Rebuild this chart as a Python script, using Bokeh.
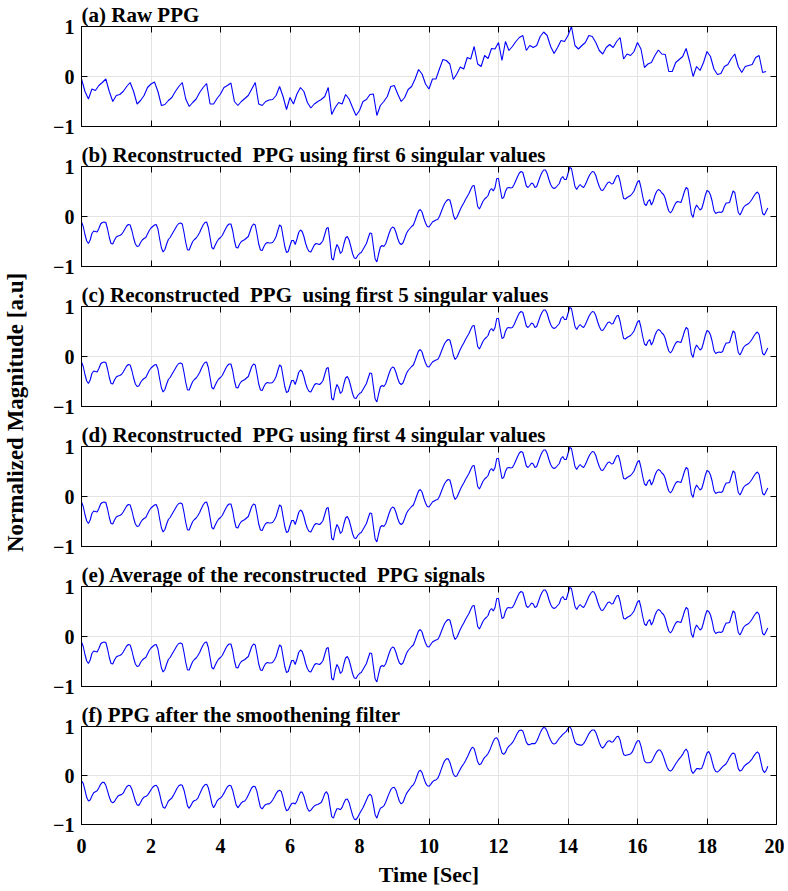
import numpy as np
from bokeh.plotting import figure
from bokeh.layouts import column, row
from bokeh.models import Range1d, FixedTicker, LinearAxis
from bokeh.embed import file_html
from bokeh.resources import INLINE
from bokeh.core.properties import value

fs_raw = 10.0   # raw trace read every 0.1 s
fs_rec = 20.0   # reconstructed / smoothed traces read every 0.05 s

raw_ppg = [
    -0.05, -0.30, -0.45, -0.25, -0.28, -0.18, -0.12, -0.05, -0.30, -0.50,
    -0.38, -0.36, -0.30, -0.20, -0.12, -0.30, -0.55, -0.48, -0.38, -0.22,
    -0.15, -0.11, -0.30, -0.58, -0.56, -0.48, -0.42, -0.30, -0.20, -0.12,
    -0.45, -0.60, -0.52, -0.45, -0.32, -0.22, -0.14, -0.55, -0.55, -0.44,
    -0.35, -0.22, -0.18, -0.13, -0.50, -0.58, -0.50, -0.44, -0.38, -0.25,
    -0.12, -0.55, -0.58, -0.50, -0.47, -0.46, -0.38, -0.20, -0.40, -0.66,
    -0.42, -0.55, -0.35, -0.22, -0.30, -0.52, -0.63, -0.55, -0.50, -0.46,
    -0.40, -0.22, -0.76, -0.62, -0.52, -0.55, -0.36, -0.45, -0.62, -0.78,
    -0.68, -0.50, -0.46, -0.36, -0.35, -0.78, -0.58, -0.50, -0.40, -0.20,
    -0.18, -0.35, -0.50, -0.42, -0.26, -0.20, -0.05, 0.14, 0.05, -0.15,
    -0.25, -0.05, -0.05, 0.15, 0.34, 0.32, 0.25, -0.06, 0.05, 0.19,
    0.15, 0.38, 0.35, 0.60, 0.25, 0.20, 0.42, 0.36, 0.56, 0.55,
    0.68, 0.32, 0.70, 0.52, 0.60, 0.70, 0.78, 0.82, 0.52, 0.62,
    0.58, 0.62, 0.80, 0.89, 0.82, 0.60, 0.46, 0.58, 0.72, 0.70,
    0.82, 1.00, 0.62, 0.55, 0.62, 0.68, 0.82, 0.80, 0.68, 0.52,
    0.45, 0.58, 0.64, 0.58, 0.70, 0.78, 0.35, 0.45, 0.42, 0.50,
    0.68, 0.55, 0.18, 0.25, 0.28, 0.42, 0.53, 0.45, 0.44, 0.10,
    0.10, 0.28, 0.34, 0.40, 0.56, 0.30, 0.00, 0.20, 0.12, 0.28,
    0.50, 0.40, 0.15, 0.04, 0.06, 0.20, 0.24, 0.36, 0.45, 0.20,
    0.08, 0.20, 0.22, 0.24, 0.38, 0.42, 0.08, 0.10,
]

# one line per heartbeat cycle, 0.05 s apart, from t = 0 to 19.75 s
recon_ppg = [
    -0.11, -0.20, -0.36, -0.49, -0.54, -0.47, -0.34, -0.29, -0.30, -0.31, -0.24, -0.15, -0.12, -0.11, -0.12, -0.25, -0.42, -0.54, -0.55,
    -0.47, -0.41, -0.39, -0.38, -0.36, -0.31, -0.25, -0.19, -0.16, -0.17, -0.28, -0.43, -0.55, -0.60, -0.59,
    -0.52, -0.47, -0.44, -0.42, -0.35, -0.28, -0.23, -0.20, -0.17, -0.16, -0.25, -0.45, -0.63, -0.71, -0.66,
    -0.55, -0.46, -0.42, -0.36, -0.30, -0.24, -0.18, -0.14, -0.13, -0.15, -0.32, -0.52, -0.67, -0.67,
    -0.58, -0.50, -0.46, -0.43, -0.38, -0.32, -0.24, -0.17, -0.12, -0.11, -0.22, -0.42, -0.62, -0.65,
    -0.57, -0.50, -0.45, -0.42, -0.38, -0.31, -0.24, -0.18, -0.15, -0.15, -0.28, -0.48, -0.62, -0.63,
    -0.55, -0.50, -0.48, -0.46, -0.43, -0.40, -0.30, -0.20, -0.15, -0.17, -0.35, -0.55, -0.67, -0.68,
    -0.60, -0.54, -0.52, -0.53, -0.53, -0.52, -0.47, -0.40, -0.28, -0.17, -0.20, -0.40, -0.60, -0.72,
    -0.70, -0.58, -0.48, -0.48, -0.56, -0.45, -0.32, -0.27, -0.30, -0.40, -0.54, -0.64, -0.70,
    -0.71, -0.64, -0.57, -0.54, -0.55, -0.56, -0.53, -0.48, -0.36, -0.24, -0.22, -0.50, -0.84, -0.87,
    -0.68, -0.56, -0.62, -0.74, -0.70, -0.55, -0.43, -0.40, -0.47, -0.60, -0.74, -0.83, -0.84,
    -0.78, -0.74, -0.72, -0.66, -0.60, -0.54, -0.43, -0.33, -0.34, -0.60, -0.85, -0.91,
    -0.75, -0.61, -0.58, -0.60, -0.55, -0.45, -0.34, -0.25, -0.21, -0.23, -0.32, -0.44, -0.53, -0.56,
    -0.53, -0.44, -0.34, -0.28, -0.24, -0.20, -0.17, -0.08, 0.02, 0.11, 0.14, 0.09, -0.03, -0.13, -0.20, -0.21,
    -0.16, -0.11, -0.09, -0.07, -0.06, 0.00, 0.09, 0.18, 0.26, 0.31, 0.34, 0.33, 0.20, 0.03, -0.06, -0.02,
    0.06, 0.14, 0.21, 0.27, 0.34, 0.40, 0.46, 0.54, 0.61, 0.62, 0.42, 0.20, 0.15,
    0.22, 0.30, 0.35, 0.38, 0.42, 0.52, 0.56, 0.51, 0.58, 0.76, 0.76, 0.55, 0.36, 0.38,
    0.50, 0.57, 0.58, 0.57, 0.58, 0.64, 0.72, 0.80, 0.87, 0.90, 0.88, 0.75, 0.61, 0.58,
    0.62, 0.67, 0.65, 0.58, 0.60, 0.70, 0.80, 0.88, 0.93, 0.93, 0.86, 0.74, 0.64, 0.58, 0.56,
    0.58, 0.62, 0.66, 0.76, 0.80, 0.74, 0.74, 0.86, 0.98, 0.96, 0.78, 0.60, 0.54,
    0.60, 0.64, 0.60, 0.58, 0.64, 0.72, 0.80, 0.86, 0.90, 0.89, 0.82, 0.70, 0.60, 0.53, 0.52,
    0.57, 0.63, 0.68, 0.69, 0.65, 0.66, 0.74, 0.81, 0.82, 0.70, 0.52, 0.36, 0.35,
    0.38, 0.40, 0.42, 0.46, 0.51, 0.60, 0.69, 0.72, 0.58, 0.40, 0.25, 0.22,
    0.30, 0.34, 0.23, 0.30, 0.42, 0.50, 0.54, 0.52, 0.47, 0.44, 0.36, 0.22, 0.11, 0.07,
    0.12, 0.20, 0.27, 0.30, 0.29, 0.28, 0.38, 0.50, 0.58, 0.55, 0.30, 0.05, -0.02,
    0.15, 0.23, 0.18, 0.13, 0.16, 0.28, 0.42, 0.52, 0.50, 0.43, 0.30, 0.12, 0.06, 0.08,
    0.09, 0.08, 0.10, 0.20, 0.27, 0.27, 0.28, 0.40, 0.51, 0.48, 0.28, 0.08, 0.03,
    0.10, 0.18, 0.22, 0.24, 0.26, 0.30, 0.35, 0.41, 0.46, 0.49, 0.44, 0.25, 0.06, 0.03, 0.10, 0.17,
]

smooth_ppg = [
    -0.11, -0.16, -0.30, -0.45, -0.52, -0.50, -0.42, -0.35, -0.33, -0.31, -0.25, -0.18, -0.14, -0.14, -0.20, -0.32, -0.44, -0.53, -0.56,
    -0.53, -0.47, -0.42, -0.40, -0.39, -0.36, -0.29, -0.23, -0.20, -0.21, -0.28, -0.40, -0.52, -0.60, -0.61,
    -0.55, -0.48, -0.44, -0.43, -0.40, -0.35, -0.29, -0.24, -0.21, -0.20, -0.25, -0.38, -0.54, -0.65, -0.67,
    -0.60, -0.52, -0.49, -0.46, -0.40, -0.33, -0.26, -0.21, -0.19, -0.20, -0.30, -0.45, -0.62, -0.67,
    -0.61, -0.54, -0.51, -0.50, -0.46, -0.38, -0.30, -0.23, -0.19, -0.18, -0.25, -0.40, -0.57, -0.66,
    -0.60, -0.52, -0.48, -0.46, -0.42, -0.36, -0.29, -0.23, -0.20, -0.21, -0.30, -0.45, -0.60, -0.66,
    -0.61, -0.56, -0.53, -0.52, -0.47, -0.40, -0.32, -0.25, -0.22, -0.23, -0.33, -0.50, -0.65, -0.68,
    -0.63, -0.59, -0.58, -0.58, -0.55, -0.50, -0.44, -0.37, -0.32, -0.30, -0.33, -0.45, -0.62, -0.72,
    -0.70, -0.63, -0.57, -0.56, -0.58, -0.52, -0.42, -0.34, -0.34, -0.42, -0.55, -0.67, -0.73,
    -0.71, -0.66, -0.62, -0.60, -0.59, -0.57, -0.55, -0.47, -0.37, -0.33, -0.40, -0.62, -0.84, -0.87,
    -0.76, -0.68, -0.68, -0.70, -0.65, -0.56, -0.49, -0.48, -0.55, -0.68, -0.81, -0.89, -0.90,
    -0.85, -0.78, -0.72, -0.66, -0.58, -0.50, -0.42, -0.38, -0.42, -0.60, -0.80, -0.87,
    -0.76, -0.67, -0.65, -0.62, -0.55, -0.46, -0.37, -0.29, -0.25, -0.24, -0.30, -0.42, -0.53, -0.58,
    -0.55, -0.46, -0.37, -0.32, -0.27, -0.22, -0.19, -0.12, -0.02, 0.08, 0.11, 0.06, -0.05, -0.15, -0.21, -0.22,
    -0.18, -0.13, -0.10, -0.09, -0.06, 0.02, 0.12, 0.22, 0.30, 0.34, 0.34, 0.27, 0.15, 0.03, -0.02, -0.01,
    0.06, 0.13, 0.19, 0.24, 0.30, 0.37, 0.45, 0.53, 0.58, 0.55, 0.42, 0.28, 0.22,
    0.24, 0.31, 0.37, 0.40, 0.45, 0.52, 0.61, 0.70, 0.76, 0.77, 0.71, 0.58, 0.46, 0.43,
    0.47, 0.55, 0.60, 0.63, 0.67, 0.73, 0.80, 0.87, 0.92, 0.93, 0.91, 0.80, 0.68, 0.63,
    0.63, 0.65, 0.65, 0.65, 0.70, 0.78, 0.87, 0.94, 0.98, 0.97, 0.90, 0.80, 0.72, 0.66, 0.64,
    0.66, 0.71, 0.76, 0.80, 0.84, 0.87, 0.90, 0.96, 1.00, 0.94, 0.80, 0.68, 0.64,
    0.63, 0.62, 0.62, 0.65, 0.71, 0.78, 0.85, 0.90, 0.93, 0.93, 0.88, 0.78, 0.67, 0.59, 0.56,
    0.60, 0.66, 0.70, 0.71, 0.68, 0.69, 0.74, 0.79, 0.80, 0.72, 0.56, 0.43, 0.41,
    0.42, 0.43, 0.44, 0.48, 0.56, 0.65, 0.71, 0.71, 0.60, 0.44, 0.30, 0.26,
    0.26, 0.26, 0.28, 0.34, 0.42, 0.48, 0.52, 0.52, 0.47, 0.38, 0.27, 0.17, 0.11, 0.09,
    0.12, 0.18, 0.24, 0.29, 0.34, 0.38, 0.43, 0.50, 0.54, 0.48, 0.28, 0.10, 0.04,
    0.09, 0.14, 0.14, 0.13, 0.15, 0.24, 0.36, 0.46, 0.49, 0.42, 0.28, 0.15, 0.08, 0.07,
    0.10, 0.14, 0.18, 0.21, 0.24, 0.30, 0.37, 0.43, 0.46, 0.44, 0.30, 0.14, 0.09,
    0.11, 0.17, 0.21, 0.24, 0.26, 0.30, 0.34, 0.40, 0.45, 0.48, 0.44, 0.28, 0.12, 0.06, 0.10, 0.19,
]

panel_titles = [
    "(a) Raw PPG",
    "(b) Reconstructed\u00a0 PPG using first 6 singular values",
    "(c) Reconstructed\u00a0 PPG\u00a0 using first 5 singular values",
    "(d) Reconstructed\u00a0 PPG using first 4 singular values",
    "(e) Average of the reconstructed\u00a0 PPG signals",
    "(f) PPG after the smoothening filter",
]
panel_series = [(raw_ppg, fs_raw), (recon_ppg, fs_rec), (recon_ppg, fs_rec),
                (recon_ppg, fs_rec), (recon_ppg, fs_rec), (smooth_ppg, fs_rec)]
x_ticks = [0, 2, 4, 6, 8, 10, 12, 14, 16, 18, 20]
y_ticks = [-1, 0, 1]
x_label = "Time [Sec]"
y_label = "Normalized Magnitude [a.u]"

FONT = "Liberation Serif"
PANEL_H = 140
LAST_H = 189
PANEL_W = 743
LAB_W = 41

panels = []
for i, (ttl, (ys, fs)) in enumerate(zip(panel_titles, panel_series)):
    last = i == len(panel_titles) - 1
    p = figure(width=PANEL_W, height=LAST_H if last else PANEL_H,
               x_range=Range1d(0, 20), y_range=Range1d(-1, 1),
               output_backend="svg", toolbar_location=None,
               min_border_left=40, min_border_right=8, min_border_top=0,
               min_border_bottom=14 if not last else 0)
    p.title.text = ttl
    p.title.text_font = FONT
    p.title.text_font_size = "21px"
    p.title.text_font_style = "bold"
    p.title.text_color = "black"
    p.title.standoff = 0
    p.title.offset = 0

    t = np.arange(len(ys)) / fs
    p.line(t, ys, line_color="#0000ff", line_width=1.1)

    p.outline_line_color = "black"
    p.xaxis.ticker = FixedTicker(ticks=x_ticks)
    p.yaxis.ticker = FixedTicker(ticks=y_ticks)
    for ax in (p.xaxis[0], p.yaxis[0]):
        ax.major_tick_in = 6
        ax.major_tick_out = 0
        ax.minor_tick_line_color = None
        ax.axis_line_color = "black"
        ax.major_tick_line_color = "black"
        ax.major_label_text_font = FONT
        ax.major_label_text_font_style = "bold"
        ax.major_label_text_font_size = "20px"
        ax.major_label_text_color = "black"
    p.yaxis.major_label_standoff = 7
    if last:
        p.xaxis.major_label_standoff = 14
        p.xaxis.axis_label = x_label
        p.xaxis.axis_label_text_font = FONT
        p.xaxis.axis_label_text_font_style = "bold"
        p.xaxis.axis_label_text_font_size = "22px"
        p.xaxis.axis_label_text_color = "black"
        p.xaxis.axis_label_standoff = 6
    else:
        p.xaxis.major_label_text_font_size = "1px"
        p.xaxis.major_label_text_color = None
        p.xaxis.major_label_standoff = 0

    top = LinearAxis(ticker=FixedTicker(ticks=x_ticks), major_label_text_font_size="1px",
                     major_label_text_color=None,
                     major_label_standoff=0, major_tick_in=6, major_tick_out=0,
                     minor_tick_line_color=None)
    right = LinearAxis(ticker=FixedTicker(ticks=y_ticks), major_label_text_font_size="1px",
                       major_label_text_color=None,
                       major_label_standoff=0, major_tick_in=6, major_tick_out=0,
                       minor_tick_line_color=None)
    p.add_layout(top, "above")
    p.add_layout(right, "right")

    p.xgrid.grid_line_color = "#e3e3e3"
    p.ygrid.grid_line_color = "#e3e3e3"
    panels.append(p)

total_h = 5 * PANEL_H + LAST_H
lab = figure(width=LAB_W, height=total_h, x_range=Range1d(0, LAB_W), y_range=Range1d(0, total_h),
             output_backend="svg", toolbar_location=None, min_border=0,
             x_axis_location=None, y_axis_location=None)
lab.outline_line_color = None
lab.grid.visible = False
lab.text(x=[15], y=[total_h - 412], text=[y_label], angle=np.pi / 2,
         text_align="center", text_baseline="middle",
         text_font=value(FONT), text_font_style="bold", text_font_size="23px",
         text_color="black")

layout = row(lab, column(*panels))
open("out.html", "w").write(file_html(layout, INLINE))
